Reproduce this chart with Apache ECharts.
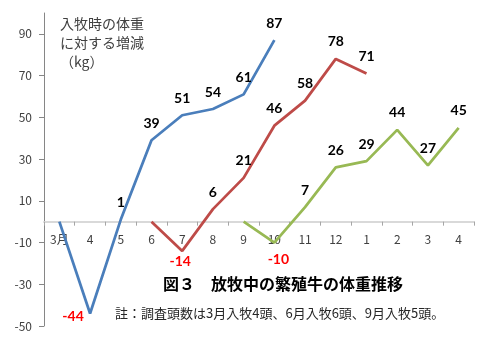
<!DOCTYPE html>
<html>
<head>
<meta charset="utf-8">
<script src="https://cdn.jsdelivr.net/npm/echarts@6/dist/echarts.min.js"></script>
<style>html,body{margin:0;padding:0;background:#fff;}#c{width:480px;height:345px;}</style>
</head>
<body>
<div id="c"></div>
<script>
const categories = ['3月','4','5','6','7','8','9','10','11','12','1','2','3','4'];
const marchEntry = [0, -44, 1, 39, 51, 54, 61, 87, null, null, null, null, null, null];
const juneEntry = [null, null, null, 0, -14, 6, 21, 46, 58, 78, 71, null, null, null];
const septEntry = [null, null, null, null, null, null, 0, -10, 7, 26, 29, 44, 27, 45];
const yTicks = [-50, -30, -10, 10, 30, 50, 70, 90];
const yAxisTitle = ['入牧時の体重', 'に対する増減', '（kg）'];
const chartTitle = '図３　放牧中の繁殖牛の体重推移';
const chartNote = '註：調査頭数は3月入牧4頭、6月入牧6頭、9月入牧5頭。';

const chart = echarts.init(document.getElementById('c'));

const negOffsets = [{1: [-17, -9]}, {4: [-2, -1]}, {7: [4, 5]}];
const colors = ['#4A7EBB', '#BE4B48', '#98B954'];

const gridTop = 13, gridBottom = 19, H = 345;
const yMin = -50, yMax = 100;
const zeroOffset = -((H - gridTop - gridBottom) * (0 - yMin) / (yMax - yMin));

function buildSeries(values, idx) {
  return {
    type: 'line',
    data: values.map((v, i) => {
      if (v === null) return null;
      if (v < 0) {
        return {
          value: v,
          label: {
            position: 'bottom', distance: 5, color: '#FF0000',
            offset: negOffsets[idx][i] || [0, 0]
          }
        };
      }
      return v;
    }),
    showSymbol: true,
    symbol: 'circle',
    symbolSize: 0,
    connectNulls: false,
    lineStyle: { color: colors[idx], width: 2.75 },
    itemStyle: { color: colors[idx] },
    label: {
      show: true, position: 'top', distance: 10,
      fontFamily: 'Lato', fontWeight: 'bold', fontSize: 14, color: '#000',
      formatter: p => (p.value === 0 ? '' : String(p.value))
    },
    z: 3
  };
}

chart.setOption({
  animation: false,
  grid: { left: 44, right: 6, top: gridTop, bottom: gridBottom },
  xAxis: {
    type: 'category',
    data: categories,
    boundaryGap: true,
    offset: zeroOffset,
    axisLine: { onZero: false, lineStyle: { color: '#d9d9d9', width: 2 } },
    axisTick: { show: true, alignWithLabel: false, interval: 0, length: 4, lineStyle: { color: '#a6a6a6' } },
    axisLabel: { interval: 0, margin: 12, fontSize: 12, color: '#404040', fontFamily: 'Noto Sans CJK JP' },
    splitLine: { show: false },
    z: 2
  },
  yAxis: {
    type: 'value',
    min: yMin, max: yMax, interval: 20,
    axisLine: { show: true, lineStyle: { color: '#868686', width: 1 } },
    axisTick: { show: true, length: 5, customValues: yTicks, lineStyle: { color: '#868686' } },
    axisLabel: { margin: 12, fontSize: 12, color: '#404040', fontFamily: 'Noto Sans CJK JP', customValues: yTicks },
    splitLine: { show: false }
  },
  series: [buildSeries(marchEntry, 0), buildSeries(juneEntry, 1), buildSeries(septEntry, 2)],
  graphic: [
    {
      type: 'text', left: 60, top: 14,
      style: { text: yAxisTitle.join('\n'), font: '14px "Noto Sans CJK JP"', lineHeight: 19, fill: '#404040' }
    },
    {
      type: 'text', left: 163, top: 276,
      style: { text: chartTitle, font: 'bold 16px "Noto Sans CJK JP"', fill: '#000' }
    },
    {
      type: 'text', left: 115, top: 307,
      style: { text: chartNote, font: '13px "Noto Sans CJK JP"', fill: '#262626' }
    }
  ]
});
</script>
</body>
</html>
